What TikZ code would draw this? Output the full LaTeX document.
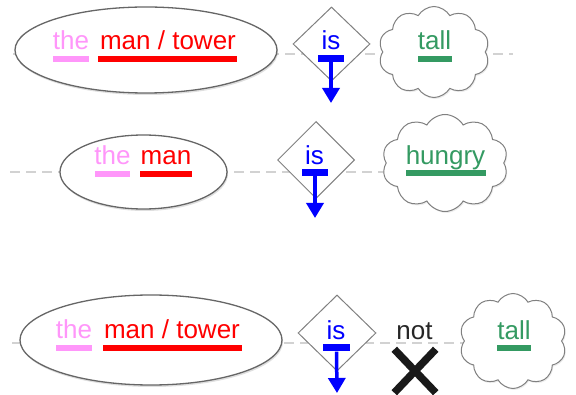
\documentclass[tikz,border=0pt]{standalone}
\usepackage{fontspec}
\setmainfont{Liberation Sans}
\usetikzlibrary{shapes.geometric,shapes.symbols,shapes.misc,arrows.meta,shadows}
\definecolor{pinkw}{RGB}{255,150,250}
\definecolor{redw}{RGB}{255,0,0}
\definecolor{bluew}{RGB}{0,0,255}
\definecolor{greenw}{RGB}{52,154,98}
\definecolor{guidegray}{RGB}{210,210,210}
\begin{document}
\begin{tikzpicture}[x=1pt,y=-1pt,
  guide/.style={draw=guidegray, line width=1.3pt, dash pattern=on 10pt off 6pt},
  subj/.style={ellipse, draw=black!60, line width=1.3pt, fill=white, inner sep=0,
    drop shadow={opacity=0.25, shadow xshift=1pt, shadow yshift=-2pt}},
  verb/.style={diamond, draw=black!50, line width=1pt, fill=white, inner sep=0},
  pred/.style={cloud, cloud puffs=10, cloud puff arc=120, cloud ignores aspect,
    draw=black!50, line width=1pt, fill=white, inner sep=0,
    drop shadow={opacity=0.15, shadow xshift=1pt, shadow yshift=-1.5pt}},
  word/.style={inner sep=0, anchor=base, font=\fontsize{26}{30}\selectfont},
  bar/.style={inner sep=0, minimum height=6pt, draw=none},
  tbar/.style={inner sep=0, minimum height=7pt, draw=none, fill=bluew},
  copula/.style={draw=bluew, line width=3.5pt, -{Triangle[length=15pt,width=17pt]}},
  crossmark/.style={cross out, draw=black!90, line width=7.5pt, inner sep=0}
]
\useasboundingbox (0,0) rectangle (576,395);

% guide lines
\coordinate (g1a) at (13,54);  \coordinate (g1b) at (513,54);
\coordinate (g2a) at (10,172); \coordinate (g2b) at (445,172);
\coordinate (g3a) at (12,343); \coordinate (g3b) at (500,343);
\draw[guide] (g1a) -- (g1b);
\draw[guide] (g2a) -- (g2b);
\draw[guide] (g3a) -- (g3b);

% ---- row 1
\node[subj, minimum width=262pt, minimum height=86pt] (e1) at (146,50) {};
\node[verb, minimum width=77pt, minimum height=74pt] (d1) at (331.5,44) {};
\node[pred, minimum width=111pt, minimum height=91pt] (c1) at (434,52) {};
\node[word, text=pinkw] (the1) at (71,50) {the};
\node[word, text=redw] (man1) at (168,50) {man / tower};
\node[word, text=bluew] (is1) at (331,50) {is};
\node[word, text=greenw] (tall1) at (434.5,50) {tall};
\node[bar, fill=pinkw, minimum width=36pt] (b1a) at (71,59) {};
\node[bar, fill=redw, minimum width=139pt] (b1b) at (167.5,59) {};
\node[tbar, minimum width=26pt] (b1c) at (331,58.5) {};
\node[bar, fill=greenw, minimum width=34pt] (b1d) at (435,59) {};
\coordinate (t1) at (331,103);
\draw[copula] (b1c.south) -- (t1);

% ---- row 2
\node[subj, minimum width=167pt, minimum height=74pt] (e2) at (143.5,172) {};
\node[verb, minimum width=77pt, minimum height=77pt] (d2) at (316,160) {};
\node[pred, minimum width=126pt, minimum height=97pt] (c2) at (445,163) {};
\node[word, text=pinkw] (the2) at (112.5,165) {the};
\node[word, text=redw] (man2) at (166,165) {man};
\node[word, text=bluew] (is2) at (314.5,165) {is};
\node[word, text=greenw] (hun2) at (445.5,165) {hungry};
\node[bar, fill=pinkw, minimum width=35pt] (b2a) at (112.5,174) {};
\node[bar, fill=redw, minimum width=52pt] (b2b) at (166,174) {};
\node[tbar, minimum width=26pt] (b2c) at (315,172.5) {};
\node[bar, fill=greenw, minimum width=80pt] (b2d) at (446,173) {};
\coordinate (t2) at (315,218);
\draw[copula] (b2c.south) -- (t2);

% ---- row 3
\node[subj, minimum width=262pt, minimum height=90pt] (e3) at (151,340) {};
\node[verb, minimum width=78pt, minimum height=76pt] (d3) at (337,333) {};
\node[pred, minimum width=107pt, minimum height=95pt] (c3) at (513,341) {};
\node[word, text=pinkw] (the3) at (74,339) {the};
\node[word, text=redw] (man3) at (172,339) {man / tower};
\node[word, text=bluew] (is3) at (336,340) {is};
\node[word, text=black!85] (not3) at (414.5,340) {not};
\node[word, text=greenw] (tall3) at (514,340) {tall};
\node[bar, fill=pinkw, minimum width=36pt] (b3a) at (74,348) {};
\node[bar, fill=redw, minimum width=139pt] (b3b) at (172.5,348) {};
\node[tbar, minimum width=27pt] (b3c) at (336.5,348) {};
\node[bar, fill=greenw, minimum width=34pt] (b3d) at (514,348) {};
\coordinate (t3) at (337,393);
\draw[copula] (b3c.south) -- (t3);
\node[crossmark, minimum width=34pt, minimum height=36pt] (x3) at (415,371) {};
\end{tikzpicture}
\end{document}
